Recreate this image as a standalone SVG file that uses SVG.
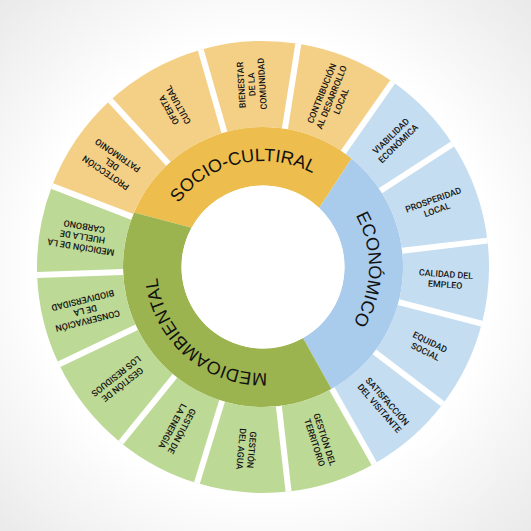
<svg xmlns="http://www.w3.org/2000/svg" width="531" height="531" viewBox="0 0 531 531">
<defs>
<radialGradient id="bg" cx="263" cy="267" r="380" gradientUnits="userSpaceOnUse">
<stop offset="0.6" stop-color="#ffffff"/>
<stop offset="1" stop-color="#e9e9e9"/>
</radialGradient>
<path id="arcSocio" d="M 157.91,280.84 A 106 106 0 0 1 364.09,235.12"/>
<path id="arcEco" d="M 274.82,161.66 A 106 106 0 0 1 269.66,372.79"/>
<path id="arcMedio" d="M 336.63,343.25 A 106 106 0 0 1 177.24,204.69"/>
</defs>
<style>
.so{fill:#F4D087}
.ec{fill:#C4DDF1}
.me{fill:#BDD996}
.soi{fill:#EDBD4D}
.eci{fill:#AACCEC}
.mei{fill:#9CB450}
.lbl{font-family:Roboto,"Liberation Sans",Arial,sans-serif;font-weight:500;font-size:8.9px;fill:#151515;text-anchor:middle}
.big{font-family:"Liberation Sans",Arial,sans-serif;font-size:18px;fill:#111111;text-anchor:middle}
.sep{stroke:#ffffff;stroke-width:6;fill:none}
</style>
<rect x="0" y="0" width="531" height="531" fill="url(#bg)"/>

<g id="ring-socio">
<path class="soi" d="M 134,212.6 A 140 140 0 0 1 351.6,158.5 L 319.1,207.9 A 81.5 81.5 0 0 0 191.6,227.7 Z"/>
<text class="big"><textPath href="#arcSocio" startOffset="50%">SOCIO-CULTIRAL</textPath></text>
</g>
<g id="ring-economico">
<path class="eci" d="M 351.6,158.5 A 140 140 0 0 1 331.5,389.1 L 303,338 A 81.5 81.5 0 0 0 319.1,207.9 Z"/>
<text class="big"><textPath href="#arcEco" startOffset="50%">ECONÓMICO</textPath></text>
</g>
<g id="ring-medio">
<path class="mei" d="M 331.5,389.1 A 140 140 0 0 1 134,212.6 L 191.6,227.7 A 81.5 81.5 0 0 0 303,338 Z"/>
<text class="big"><textPath href="#arcMedio" startOffset="50%">MEDIOAMBIENTAL</textPath></text>
</g>
<circle cx="263" cy="267" r="81.5" fill="#ffffff"/>

<g id="proteccion">
<path class="so" d="M 132.30,216.83 L 52.01,186.01 A 226 226 0 0 1 110.32,100.37 L 168.42,163.78 A 140 140 0 0 0 132.30,216.83 Z"/>
<text class="lbl" transform="translate(111.73,164.01) rotate(-145.75)"><tspan x="0" y="-7.5">PROTECCIÓN</tspan><tspan x="0" y="3">DEL</tspan><tspan x="0" y="13.5">PATRIMONIO</tspan></text>
</g>
<g id="oferta">
<path class="so" d="M 168.42,163.78 L 110.32,100.37 A 226 226 0 0 1 200.71,49.76 L 224.41,132.42 A 140 140 0 0 0 168.42,163.78 Z"/>
<text class="lbl" transform="translate(173.58,107.33) rotate(-119.25)"><tspan x="0" y="-2.25">OFERTA</tspan><tspan x="0" y="8.25">CULTURAL</tspan></text>
</g>
<g id="bienestar">
<path class="so" d="M 224.41,132.42 L 200.71,49.76 A 226 226 0 0 1 298.35,43.78 L 284.90,128.72 A 140 140 0 0 0 224.41,132.42 Z"/>
<text class="lbl" transform="translate(251.83,84.34) rotate(-93.5)"><tspan x="0" y="-7.5">BIENESTAR</tspan><tspan x="0" y="3">DE LA</tspan><tspan x="0" y="13.5">COMUNIDAD</tspan></text>
</g>
<g id="contribucion">
<path class="so" d="M 284.90,128.72 L 298.35,43.78 A 226 226 0 0 1 392.63,81.87 L 343.30,152.32 A 140 140 0 0 0 284.90,128.72 Z"/>
<text class="lbl" transform="translate(331.55,97.33) rotate(-68)"><tspan x="0" y="-7.5">CONTRIBUCIÓN</tspan><tspan x="0" y="3">AL DESARROLLO</tspan><tspan x="0" y="13.5">LOCAL</tspan></text>
</g>
<g id="viabilidad">
<path class="ec" d="M 343.30,152.32 L 392.63,81.87 A 226 226 0 0 1 452.54,143.91 L 380.41,190.75 A 140 140 0 0 0 343.30,152.32 Z"/>
<text class="lbl" transform="translate(394.64,139.88) rotate(-44)"><tspan x="0" y="-2.25">VIABILIDAD</tspan><tspan x="0" y="8.25">ECONÓMICA</tspan></text>
</g>
<g id="prosperidad">
<path class="ec" d="M 380.41,190.75 L 452.54,143.91 A 226 226 0 0 1 487.46,240.63 L 402.04,250.67 A 140 140 0 0 0 380.41,190.75 Z"/>
<text class="lbl" transform="translate(435.12,204.86) rotate(-19.85)"><tspan x="0" y="-2.25">PROSPERIDAD</tspan><tspan x="0" y="8.25">LOCAL</tspan></text>
</g>
<g id="calidad">
<path class="ec" d="M 402.04,250.67 L 487.46,240.63 A 226 226 0 0 1 481.80,323.59 L 398.54,302.05 A 140 140 0 0 0 402.04,250.67 Z"/>
<text class="lbl" transform="translate(445.58,279.45) rotate(3.9)"><tspan x="0" y="-2.25">CALIDAD DEL</tspan><tspan x="0" y="8.25">EMPLEO</tspan></text>
</g>
<g id="equidad">
<path class="ec" d="M 398.54,302.05 L 481.80,323.59 A 226 226 0 0 1 442.78,403.95 L 374.37,351.84 A 140 140 0 0 0 398.54,302.05 Z"/>
<text class="lbl" transform="translate(427.62,346.93) rotate(25.9)"><tspan x="0" y="-2.25">EQUIDAD</tspan><tspan x="0" y="8.25">SOCIAL</tspan></text>
</g>
<g id="satisfaccion">
<path class="ec" d="M 374.37,351.84 L 442.78,403.95 A 226 226 0 0 1 374.29,463.70 L 331.94,388.85 A 140 140 0 0 0 374.37,351.84 Z"/>
<text class="lbl" transform="translate(383.30,404.90) rotate(48.9)"><tspan x="0" y="-2.25">SATISFACCIÓN</tspan><tspan x="0" y="8.25">DEL VISITANTE</tspan></text>
</g>
<g id="territorio">
<path class="me" d="M 331.94,388.85 L 374.29,463.70 A 226 226 0 0 1 288.58,491.55 L 278.85,406.10 A 140 140 0 0 0 331.94,388.85 Z"/>
<text class="lbl" transform="translate(319.55,441.04) rotate(72)"><tspan x="0" y="-2.25">GESTIÓN DEL</tspan><tspan x="0" y="8.25">TERRITORIO</tspan></text>
</g>
<g id="agua">
<path class="me" d="M 278.85,406.10 L 288.58,491.55 A 226 226 0 0 1 196.92,483.12 L 222.07,400.88 A 140 140 0 0 0 278.85,406.10 Z"/>
<text class="lbl" transform="translate(246.26,449.23) rotate(95.25)"><tspan x="0" y="-2.25">GESTIÓN</tspan><tspan x="0" y="8.25">DEL AGUA</tspan></text>
</g>
<g id="energia">
<path class="me" d="M 222.07,400.88 L 196.92,483.12 A 226 226 0 0 1 120.77,442.64 L 174.90,375.80 A 140 140 0 0 0 222.07,400.88 Z"/>
<text class="lbl" transform="translate(177.09,428.58) rotate(118)"><tspan x="0" y="-2.25">GESTIÓN DE</tspan><tspan x="0" y="8.25">LA ENERGÍA</tspan></text>
</g>
<g id="residuos">
<path class="me" d="M 174.90,375.80 L 120.77,442.64 A 226 226 0 0 1 59.01,364.30 L 136.64,327.27 A 140 140 0 0 0 174.90,375.80 Z"/>
<text class="lbl" transform="translate(119.29,380.29) rotate(141.75)"><tspan x="0" y="-2.25">GESTIÓN DE</tspan><tspan x="0" y="8.25">LOS RESIDUOS</tspan></text>
</g>
<g id="conservacion">
<path class="me" d="M 136.64,327.27 L 59.01,364.30 A 226 226 0 0 1 37.14,274.89 L 123.09,271.89 A 140 140 0 0 0 136.64,327.27 Z"/>
<text class="lbl" transform="translate(85.24,310.50) rotate(166.25)"><tspan x="0" y="-7.5">CONSERVACIÓN</tspan><tspan x="0" y="3">DE LA</tspan><tspan x="0" y="13.5">BIODIVERSIDAD</tspan></text>
</g>
<g id="medicion">
<path class="me" d="M 123.09,271.89 L 37.14,274.89 A 226 226 0 0 1 52.01,186.01 L 132.30,216.83 A 140 140 0 0 0 123.09,271.89 Z"/>
<text class="lbl" transform="translate(82.51,236.80) rotate(189.5)"><tspan x="0" y="-7.5">MEDICIÓN DE LA</tspan><tspan x="0" y="3">HUELLA DE</tspan><tspan x="0" y="13.5">CARBONO</tspan></text>
</g>

<g id="connectors" class="sep">
<line x1="132.30" y1="216.83" x2="52.01" y2="186.01"/>
<line x1="168.42" y1="163.78" x2="110.32" y2="100.37"/>
<line x1="224.41" y1="132.42" x2="200.71" y2="49.76"/>
<line x1="284.90" y1="128.72" x2="298.35" y2="43.78"/>
<line x1="343.30" y1="152.32" x2="392.63" y2="81.87"/>
<line x1="380.41" y1="190.75" x2="452.54" y2="143.91"/>
<line x1="402.04" y1="250.67" x2="487.46" y2="240.63"/>
<line x1="398.54" y1="302.05" x2="481.80" y2="323.59"/>
<line x1="374.37" y1="351.84" x2="442.78" y2="403.95"/>
<line x1="331.94" y1="388.85" x2="374.29" y2="463.70"/>
<line x1="278.85" y1="406.10" x2="288.58" y2="491.55"/>
<line x1="222.07" y1="400.88" x2="196.92" y2="483.12"/>
<line x1="174.90" y1="375.80" x2="120.77" y2="442.64"/>
<line x1="136.64" y1="327.27" x2="59.01" y2="364.30"/>
<line x1="123.09" y1="271.89" x2="37.14" y2="274.89"/>
</g>
</svg>
